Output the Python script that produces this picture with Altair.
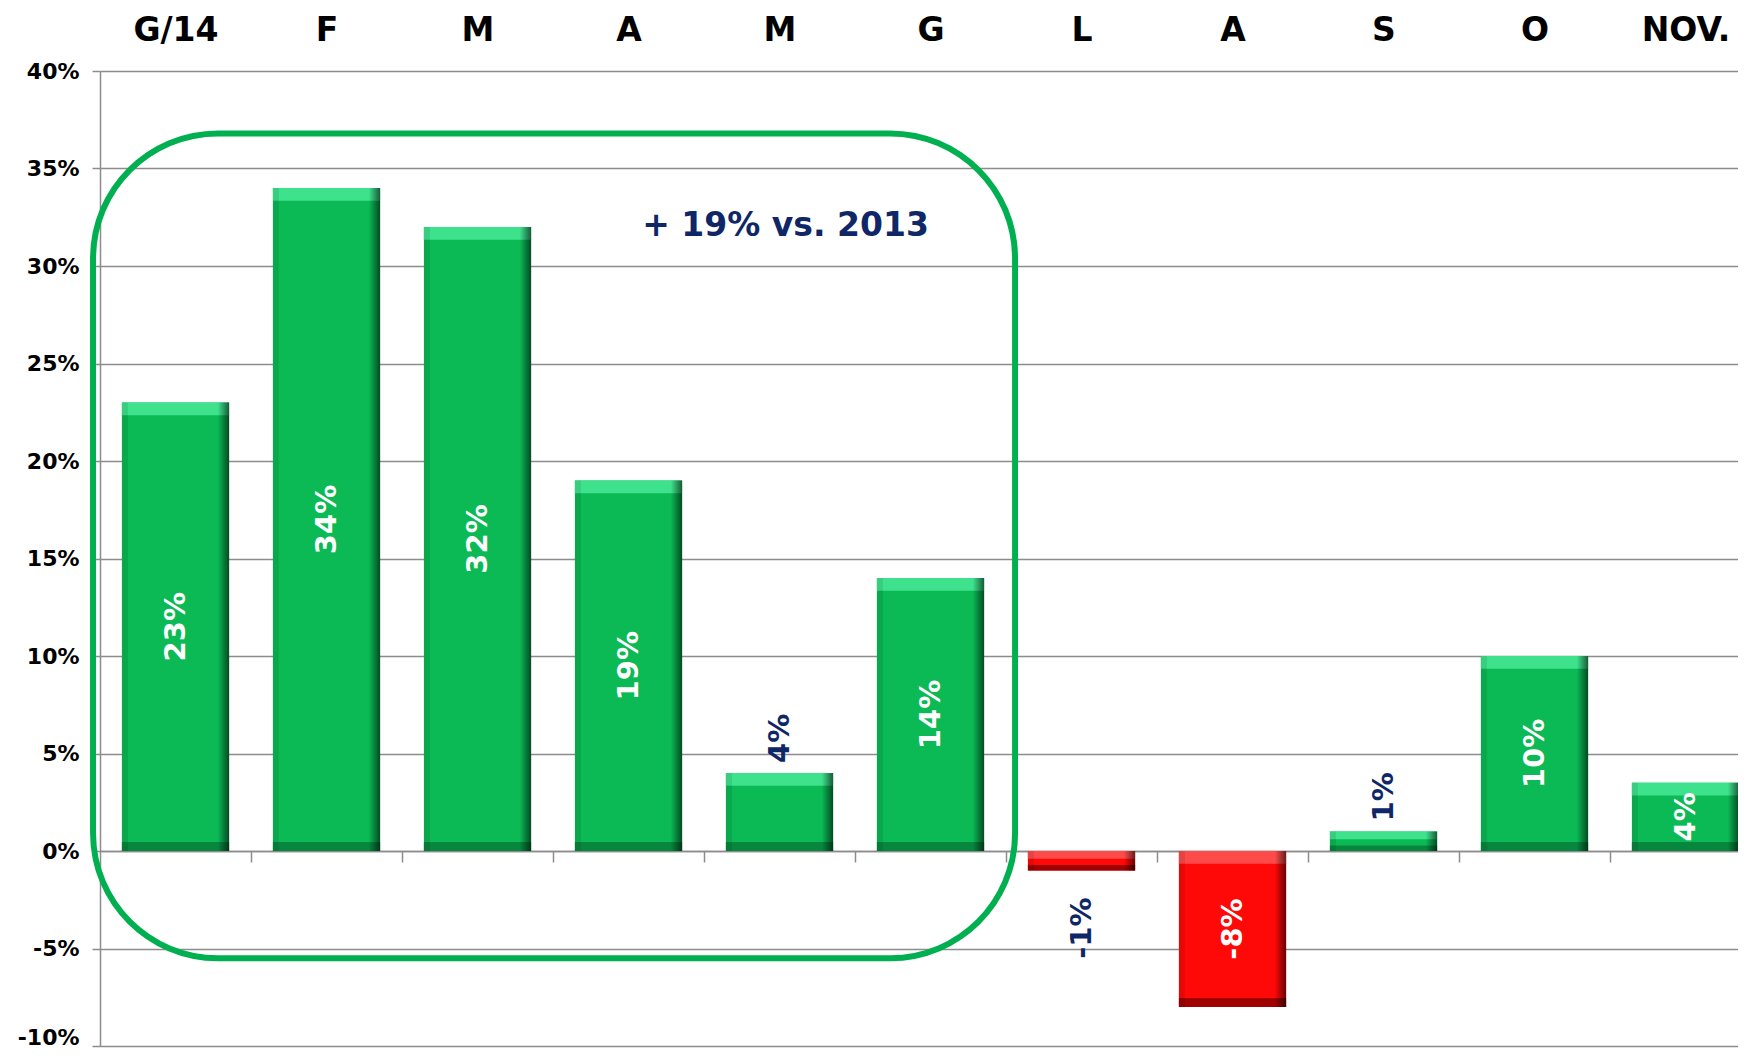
import json
import altair as alt
import pandas as pd

# ---- data ----
months = ["G/14", "F", "M", "A", "M", "G", "L", "A", "S", "O", "NOV."]
values = [23, 34, 32, 19, 4, 14, -1, -8, 1, 10, 3.5]
labels = ["23%", "34%", "32%", "19%", "4%", "14%", "-1%", "-8%", "1%", "10%", "4%"]
label_inside = [True, True, True, True, False, True, False, True, False, True, True]
y_ticks = [-10, -5, 0, 5, 10, 15, 20, 25, 30, 35, 40]

note_text = ["+ 19% vs. 2013"]
note_x = [4.54]
note_y = [31.55]
box_x = [-0.046, 6.06]
box_y = [-5.5, 36.8]

FONT = "DejaVu Sans"
GRID = "#8c8c8c"
NAVY = "#0f2766"

df = pd.DataFrame({"i": list(range(len(months))), "month": months, "v": values,
                   "label": labels, "inside": label_inside})

PX_PER_BAND = 151
xs = alt.Scale(domain=[0, len(months)], range=[0, PX_PER_BAND * len(months)], nice=False, zero=False)
ys = alt.Scale(domain=[y_ticks[0], y_ticks[-1]], nice=False, zero=False)

base = (alt.Chart(df)
        .transform_calculate(x0="datum.i + 0.145")
        .transform_calculate(x1="datum.i + 0.855")
        .transform_calculate(top="max(datum.v, 0)")
        .transform_calculate(bot="min(datum.v, 0)")
        .transform_calculate(mid="datum.v / 2")
        .transform_calculate(ts="datum.top - min(0.66, (datum.top - datum.bot) * 0.4)")
        .transform_calculate(bs="datum.bot + min(0.46, (datum.top - datum.bot) * 0.28)")
        .transform_calculate(xl="datum.x0 + 0.04")
        .transform_calculate(xr="datum.x1 - 0.075")
        .transform_calculate(xc="datum.i + 0.5"))

top_axis = alt.Axis(orient="top", values=[i + 0.5 for i in range(len(months))],
                    labelExpr=json.dumps(months) + "[floor(datum.value)]",
                    ticks=False, tickSize=0, domain=False, grid=False, title=None,
                    labelFont=FONT, labelFontSize=33, labelFontWeight="bold", labelColor="black",
                    labelPadding=31, labelBaseline="alphabetic", labelFlush=False, labelOverlap=False)

y_axis = alt.Axis(orient="left", values=y_ticks, labelExpr="datum.value + '%'",
                  grid=True, gridColor=GRID, gridWidth=1.5,
                  domain=True, domainColor=GRID, domainWidth=1.5,
                  ticks=True, tickColor=GRID, tickSize=8, tickWidth=1.5,
                  labelFont=FONT, labelFontSize=22, labelFontWeight="bold", labelColor="black",
                  labelPadding=13, labelBaseline="middle", labelFlush=False, labelOverlap=False,
                  labelOffset={"condition": {"test": "datum.value == %d" % y_ticks[0], "value": -9}, "value": 0},
                  title=None)

zero_axis = alt.Axis(orient="bottom", offset=-195, values=list(range(1, len(months))),
                     labels=False, domain=True, domainColor=GRID, domainWidth=1.5,
                     ticks=True, tickColor=GRID, tickSize=11, tickWidth=1.5, grid=False, title=None)

shadow = base.mark_bar(color="black", opacity=0.13, xOffset=3, yOffset=4).encode(
    x=alt.X("x0:Q", scale=xs, axis=None), x2="x1:Q",
    y=alt.Y("top:Q", scale=ys, axis=None), y2="bot:Q")

body = base.mark_bar().encode(
    x=alt.X("x0:Q", scale=xs, axis=top_axis), x2="x1:Q",
    y=alt.Y("top:Q", scale=ys, axis=y_axis), y2="bot:Q",
    color=alt.condition("datum.v >= 0", alt.value("#0bb955"), alt.value("#ff0808")))

top_strip = base.mark_bar().encode(
    x=alt.X("x0:Q", scale=xs, axis=None), x2="x1:Q",
    y=alt.Y("top:Q", scale=ys, axis=None), y2="ts:Q",
    color=alt.condition("datum.v >= 0", alt.value("#3ee28c"), alt.value("#ff4a4a")))

bot_strip = base.mark_bar().encode(
    x=alt.X("x0:Q", scale=xs, axis=None), x2="x1:Q",
    y=alt.Y("bot:Q", scale=ys, axis=None), y2="bs:Q",
    color=alt.condition("datum.v >= 0", alt.value("#07873d"), alt.value("#a00000")))

left_edge = base.mark_bar(color="rgba(0,0,0,0.09)").encode(
    x=alt.X("x0:Q", scale=xs, axis=zero_axis), x2="xl:Q",
    y=alt.Y("top:Q", scale=ys, axis=None), y2="bot:Q")

right_grad = alt.LinearGradient(
    gradient="linear", x1=0, x2=1, y1=0, y2=0,
    stops=[alt.GradientStop(color="rgba(0,0,0,0)", offset=0),
           alt.GradientStop(color="rgba(0,0,0,0.6)", offset=1)])
right_edge = base.mark_bar(color=right_grad).encode(
    x=alt.X("xr:Q", scale=xs, axis=None), x2="x1:Q",
    y=alt.Y("top:Q", scale=ys, axis=None), y2="bot:Q")

txt = dict(font=FONT, fontSize=29, fontWeight="bold", angle=270, baseline="middle")

lab_in = base.transform_filter("datum.inside").mark_text(
    align="center", color="white", **txt).encode(
    x=alt.X("xc:Q", scale=xs, axis=None), y=alt.Y("mid:Q", scale=ys, axis=None), text="label:N")

lab_out_pos = base.transform_filter("!datum.inside && datum.v >= 0").mark_text(
    align="left", dx=10, color=NAVY, **txt).encode(
    x=alt.X("xc:Q", scale=xs, axis=None), y=alt.Y("v:Q", scale=ys, axis=None), text="label:N")

lab_out_neg = base.transform_filter("!datum.inside && datum.v < 0").mark_text(
    align="right", dx=-27, color=NAVY, **txt).encode(
    x=alt.X("xc:Q", scale=xs, axis=None), y=alt.Y("v:Q", scale=ys, axis=None), text="label:N")

box_df = pd.DataFrame({"bx0": [box_x[0]], "bx1": [box_x[1]], "by0": [box_y[0]], "by1": [box_y[1]]})
box = alt.Chart(box_df).mark_rect(filled=False, color="#00b050", strokeWidth=6, cornerRadius=125).encode(
    x=alt.X("bx0:Q", scale=xs, axis=None), x2="bx1:Q",
    y=alt.Y("by0:Q", scale=ys, axis=None), y2="by1:Q")

note_df = pd.DataFrame({"t": note_text, "nx": note_x, "ny": note_y})
note = alt.Chart(note_df).mark_text(font=FONT, fontSize=33, fontWeight="bold", color=NAVY,
                                    align="center", baseline="alphabetic").encode(
    x=alt.X("nx:Q", scale=xs, axis=None), y=alt.Y("ny:Q", scale=ys, axis=None), text="t:N")

chart = (alt.layer(shadow, body, top_strip, bot_strip, left_edge, right_edge,
                   lab_in, lab_out_pos, lab_out_neg, box, note)
         .resolve_axis(x="independent", y="independent")
         .properties(width=1638, height=975,
                     autosize=alt.AutoSizeParams(type="none"),
                     padding={"left": 92, "top": 63, "right": 0, "bottom": 4},
                     background="white")
         .configure_view(stroke=None))

chart.save("out.html", embed_options={"renderer": "svg", "actions": False})
